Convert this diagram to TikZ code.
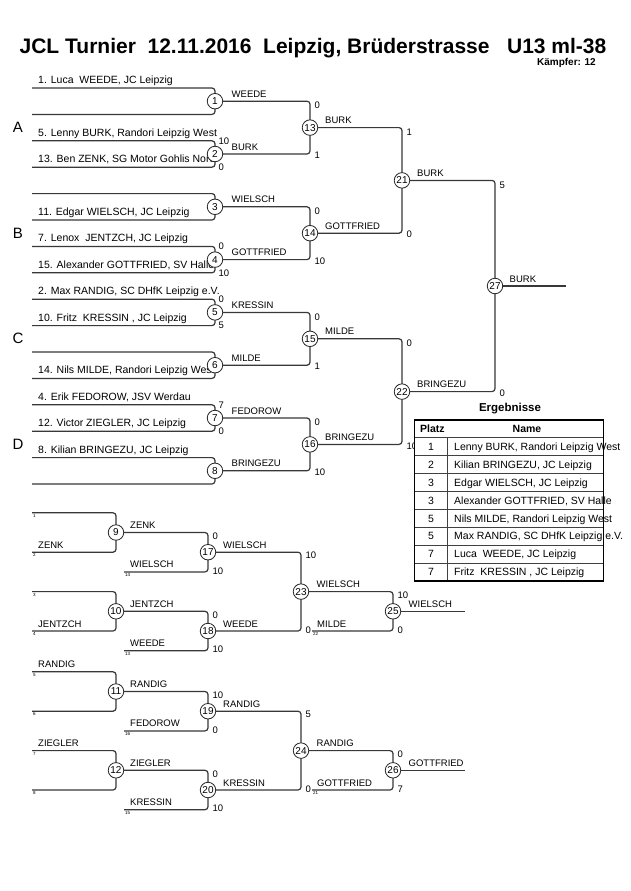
\documentclass[tikz,border=0pt]{standalone}
\usepackage{fontspec}
\setmainfont{Liberation Sans}
\begin{document}
\begin{tikzpicture}[x=1pt,y=-1pt,
  bline/.style={draw=black!78, line width=1.2pt, rounded corners=3pt},
  match/.style={circle, draw=black!85, line width=0.8pt, fill=white, inner sep=0pt, minimum size=15.5pt, font=\fontsize{10}{10}\selectfont},
  entry/.style={anchor=base west, inner sep=0pt, font=\fontsize{10.5}{12}\selectfont},
  wlabel/.style={anchor=base west, inner sep=0pt, font=\fontsize{9.5}{11}\selectfont},
  score/.style={anchor=west, inner sep=0pt, font=\fontsize{9.5}{11}\selectfont},
  seed/.style={anchor=north west, inner sep=0pt, font=\fontsize{4.5}{5}\selectfont},
  grp/.style={inner sep=0pt, font=\fontsize{15}{15}\selectfont},
  tcell/.style={anchor=base west, inner sep=0pt, font=\fontsize{10.5}{12}\selectfont},
  tnum/.style={anchor=base, inner sep=0pt, font=\fontsize{10.5}{12}\selectfont},
  thead/.style={inner sep=0pt, font=\bfseries\fontsize{10.5}{12}\selectfont},
]
\useasboundingbox[fill=white] (0,0) rectangle (630,891);

% ---------------- title ----------------
\node[anchor=base, inner sep=0pt, font=\bfseries\fontsize{21}{24}\selectfont] (title) at (313,54)
  {JCL Turnier\ \ 12.11.2016\ \ Leipzig, Brüderstrasse\ \ \ U13 ml-38};
\node[anchor=base east, inner sep=0pt, font=\bfseries\fontsize{10}{12}\selectfont] (kaempfer) at (596,65.5) {Kämpfer: 12};

% ---------------- main bracket coordinates ----------------
\foreach \k in {0,...,15} { \coordinate (e\k) at (32,{88+26.4*\k}); }
\foreach \i in {1,...,8} { \coordinate (p\i) at (215,{101.2+52.8*(\i-1)}); }
\foreach \i [evaluate=\i as \j using int(\i+12)] in {1,...,4} { \coordinate (p\j) at (310,{127.6+105.6*(\i-1)}); }
\coordinate (p21) at (402,180.4);
\coordinate (p22) at (402,391.6);
\coordinate (p27) at (495,286);
\coordinate (f27) at (566,286);

% ---------------- repechage coordinates ----------------
\coordinate (a1) at (32,512.8);  \coordinate (a2) at (32,552.2);
\coordinate (a3) at (32,591.6);  \coordinate (a4) at (32,631.0);
\coordinate (p9) at (116,532.5); \coordinate (p10) at (116,611.3);
\coordinate (i17) at (124,571.9); \coordinate (p17) at (208,552.2);
\coordinate (i18) at (124,650.7); \coordinate (p18) at (208,631.0);
\coordinate (p23) at (301,591.6);
\coordinate (i25) at (312,631.0); \coordinate (p25) at (393,611.3); \coordinate (f25) at (465,611.3);
\coordinate (b1) at (32,671.8);  \coordinate (b2) at (32,711.2);
\coordinate (b3) at (32,750.6);  \coordinate (b4) at (32,790.0);
\coordinate (p11) at (116,691.5); \coordinate (p12) at (116,770.3);
\coordinate (i19) at (124,730.9); \coordinate (p19) at (208,711.2);
\coordinate (i20) at (124,809.7); \coordinate (p20) at (208,790.0);
\coordinate (p24) at (301,750.6);
\coordinate (i26) at (312,790.0); \coordinate (p26) at (393,770.3); \coordinate (f26) at (465,770.3);

% ---------------- lines ----------------
\foreach \i [evaluate=\i as \a using int(2*\i-2), evaluate=\i as \b using int(2*\i-1)] in {1,...,8}
  { \draw[bline] (e\a) -| (p\i) |- (e\b); }
\draw[bline] (p1) -| (p13) |- (p2);
\draw[bline] (p3) -| (p14) |- (p4);
\draw[bline] (p5) -| (p15) |- (p6);
\draw[bline] (p7) -| (p16) |- (p8);
\draw[bline] (p13) -| (p21) |- (p14);
\draw[bline] (p15) -| (p22) |- (p16);
\draw[bline] (p21) -| (p27) |- (p22);
\draw[bline] (p27) -- (f27);

\draw[bline] (a1) -| (p9) |- (a2);
\draw[bline] (a3) -| (p10) |- (a4);
\draw[bline] (p9) -| (p17) |- (i17);
\draw[bline] (p10) -| (p18) |- (i18);
\draw[bline] (p17) -| (p23) |- (p18);
\draw[bline] (p23) -| (p25) |- (i25);
\draw[bline] (p25) -- (f25);
\draw[bline] (b1) -| (p11) |- (b2);
\draw[bline] (b3) -| (p12) |- (b4);
\draw[bline] (p11) -| (p19) |- (i19);
\draw[bline] (p12) -| (p20) |- (i20);
\draw[bline] (p19) -| (p24) |- (p20);
\draw[bline] (p24) -| (p26) |- (i26);
\draw[bline] (p26) -- (f26);

% ---------------- group letters ----------------
\node[grp] (gA) at (18,127.6) {A};
\node[grp] (gB) at (18,233.2) {B};
\node[grp] (gC) at (18,338.8) {C};
\node[grp] (gD) at (18,444.4) {D};

% ---------------- entry names ----------------
\node[entry] (t0)  at (38,83.5)  {1. Luca\ \ WEEDE, JC Leipzig};
\node[entry] (t2)  at (38,136.3) {5. Lenny BURK, Randori Leipzig West};
\node[entry] (t3)  at (38,162.7) {13. Ben ZENK, SG Motor Gohlis Nord};
\node[entry] (t5)  at (38,215.5) {11. Edgar WIELSCH, JC Leipzig};
\node[entry] (t6)  at (38,241.9) {7. Lenox\ \ JENTZCH, JC Leipzig};
\node[entry] (t7)  at (38,268.3) {15. Alexander GOTTFRIED, SV Halle};
\node[entry] (t8)  at (38,294.7) {2. Max RANDIG, SC DHfK Leipzig e.V.};
\node[entry] (t9)  at (38,321.1) {10. Fritz\ \ KRESSIN , JC Leipzig};
\node[entry] (t11) at (38,373.9) {14. Nils MILDE, Randori Leipzig West};
\node[entry] (t12) at (38,400.3) {4. Erik FEDOROW, JSV Werdau};
\node[entry] (t13) at (38,426.7) {12. Victor ZIEGLER, JC Leipzig};
\node[entry] (t14) at (38,453.1) {8. Kilian BRINGEZU, JC Leipzig};

% ---------------- winner labels main ----------------
\node[wlabel] (w1) at (231.5,97.2)  {WEEDE};
\node[wlabel] (w2) at (231.5,150.0) {BURK};
\node[wlabel] (w3) at (231.5,202.8) {WIELSCH};
\node[wlabel] (w4) at (231.5,255.6) {GOTTFRIED};
\node[wlabel] (w5) at (231.5,308.4) {KRESSIN};
\node[wlabel] (w6) at (231.5,361.2) {MILDE};
\node[wlabel] (w7) at (231.5,414.0) {FEDOROW};
\node[wlabel] (w8) at (231.5,466.8) {BRINGEZU};
\node[wlabel] (w13) at (325,123.6) {BURK};
\node[wlabel] (w14) at (325,229.2) {GOTTFRIED};
\node[wlabel] (w15) at (325,334.8) {MILDE};
\node[wlabel] (w16) at (325,440.4) {BRINGEZU};
\node[wlabel] (w21) at (417,176.4) {BURK};
\node[wlabel] (w22) at (417,387.6) {BRINGEZU};
\node[wlabel] (w27) at (509.5,282) {BURK};

% ---------------- scores main ----------------
\node[score] (s2a) at (218.5,140.8) {10};
\node[score] (s2b) at (218.5,167.2) {0};
\node[score] (s4a) at (218.5,246.4) {0};
\node[score] (s4b) at (218.5,272.8) {10};
\node[score] (s5a) at (218.5,299.2) {0};
\node[score] (s5b) at (218.5,325.6) {5};
\node[score] (s7a) at (218.5,404.8) {7};
\node[score] (s7b) at (218.5,431.2) {0};
\node[score] (s13a) at (314.5,105.7) {0};
\node[score] (s13b) at (314.5,155.5) {1};
\node[score] (s14a) at (314.5,211.3) {0};
\node[score] (s14b) at (314.5,261.1) {10};
\node[score] (s15a) at (314.5,316.9) {0};
\node[score] (s15b) at (314.5,366.7) {1};
\node[score] (s16a) at (314.5,422.5) {0};
\node[score] (s16b) at (314.5,472.3) {10};
\node[score] (s21a) at (406.5,132.1) {1};
\node[score] (s21b) at (406.5,234.7) {0};
\node[score] (s22a) at (406.5,343.3) {0};
\node[score] (s22b) at (406.5,445.9) {10};
\node[score] (s27a) at (499.5,184.9) {5};
\node[score] (s27b) at (499.5,393.1) {0};

% ---------------- repechage labels ----------------
\node[wlabel] (ra2) at (38,548.2) {ZENK};
\node[wlabel] (ra4) at (38,627.0) {JENTZCH};
\node[wlabel] (rb1) at (38,667.8) {RANDIG};
\node[wlabel] (rb3) at (38,746.6) {ZIEGLER};
\node[wlabel] (w9)  at (130,528.5) {ZENK};
\node[wlabel] (w10) at (130,607.3) {JENTZCH};
\node[wlabel] (w11) at (130,687.5) {RANDIG};
\node[wlabel] (w12) at (130,766.3) {ZIEGLER};
\node[wlabel] (l17) at (130,567.9) {WIELSCH};
\node[wlabel] (l18) at (130,646.7) {WEEDE};
\node[wlabel] (l19) at (130,726.9) {FEDOROW};
\node[wlabel] (l20) at (130,805.7) {KRESSIN};
\node[wlabel] (w17) at (223,548.2) {WIELSCH};
\node[wlabel] (w18) at (223,627.0) {WEEDE};
\node[wlabel] (w19) at (223,707.2) {RANDIG};
\node[wlabel] (w20) at (223,786.0) {KRESSIN};
\node[wlabel] (w23) at (316.5,587.6) {WIELSCH};
\node[wlabel] (l25) at (317,627.0) {MILDE};
\node[wlabel] (w24) at (316.5,746.6) {RANDIG};
\node[wlabel] (l26) at (317,786.0) {GOTTFRIED};
\node[wlabel] (w25) at (408.5,607.3) {WIELSCH};
\node[wlabel] (w26) at (408.5,766.3) {GOTTFRIED};

% ---------------- repechage scores ----------------
\node[score] (s17a) at (212.5,536.0) {0};
\node[score] (s17b) at (212.5,570.9) {10};
\node[score] (s18a) at (212.5,614.8) {0};
\node[score] (s18b) at (212.5,649.7) {10};
\node[score] (s19a) at (212.5,695.0) {10};
\node[score] (s19b) at (212.5,729.9) {0};
\node[score] (s20a) at (212.5,773.8) {0};
\node[score] (s20b) at (212.5,808.7) {10};
\node[score] (s23a) at (305.5,555.7) {10};
\node[score] (s23b) at (305.5,630.0) {0};
\node[score] (s24a) at (305.5,714.7) {5};
\node[score] (s24b) at (305.5,789.0) {0};
\node[score] (s25a) at (397.5,594.8) {10};
\node[score] (s25b) at (397.5,630.0) {0};
\node[score] (s26a) at (397.5,753.9) {0};
\node[score] (s26b) at (397.5,789.0) {7};

% ---------------- seed numbers ----------------
\node[seed] (q1) at (33,514.0) {1};
\node[seed] (q2) at (33,553.4) {2};
\node[seed] (q3) at (33,592.8) {3};
\node[seed] (q4) at (33,632.2) {4};
\node[seed] (q5) at (33,673.0) {5};
\node[seed] (q6) at (33,712.4) {6};
\node[seed] (q7) at (33,751.8) {7};
\node[seed] (q8) at (33,791.2) {8};
\node[seed] (q14) at (125,573.1) {14};
\node[seed] (q13) at (125,651.9) {13};
\node[seed] (q16) at (125,732.1) {16};
\node[seed] (q15) at (125,810.9) {15};
\node[seed] (q22) at (313,632.2) {22};
\node[seed] (q21) at (313,791.2) {21};

% ---------------- match circles ----------------
\foreach \i in {1,...,27}
  { \node[match] (m\i) at (p\i) {\i}; }

% ---------------- results table ----------------
\node[anchor=base, inner sep=0pt, font=\bfseries\fontsize{11.5}{13}\selectfont] (erg) at (510,411.5) {Ergebnisse};
\fill[white] (414.5,420) rectangle (603.5,580.9);
\node[thead, anchor=base west] (hplatz) at (420,432.65) {Platz};
\node[thead, anchor=base] (hname) at (527,432.65) {Name};
\foreach \j/\pl/\nm in {1/1/{Lenny BURK, Randori Leipzig West},
                        2/2/{Kilian BRINGEZU, JC Leipzig},
                        3/3/{Edgar WIELSCH, JC Leipzig},
                        4/3/{Alexander GOTTFRIED, SV Halle},
                        5/5/{Nils MILDE, Randori Leipzig West},
                        6/5/{Max RANDIG, SC DHfK Leipzig e.V.},
                        7/7/{Luca\ \ WEEDE, JC Leipzig},
                        8/7/{Fritz\ \ KRESSIN , JC Leipzig}} {
  \node[tnum] (rp\j) at (431,{446.65+17.9*(\j-1)+3.8}) {\pl};
  \node[tcell] (rn\j) at (454,{446.65+17.9*(\j-1)+3.8}) {\nm};
}
\coordinate (tl) at (414.5,420);
\coordinate (br) at (603.5,580.9);
\foreach \j in {0,...,7} {
  \draw[black!75, line width=0.8pt] (414.5,{437.7+17.9*\j}) -- (603.5,{437.7+17.9*\j});
}
\draw[black!75, line width=0.8pt] (447.5,437.7) -- (447.5,580.9);
\draw[black, line width=1.6pt] (tl) rectangle (br);
\end{tikzpicture}
\end{document}
